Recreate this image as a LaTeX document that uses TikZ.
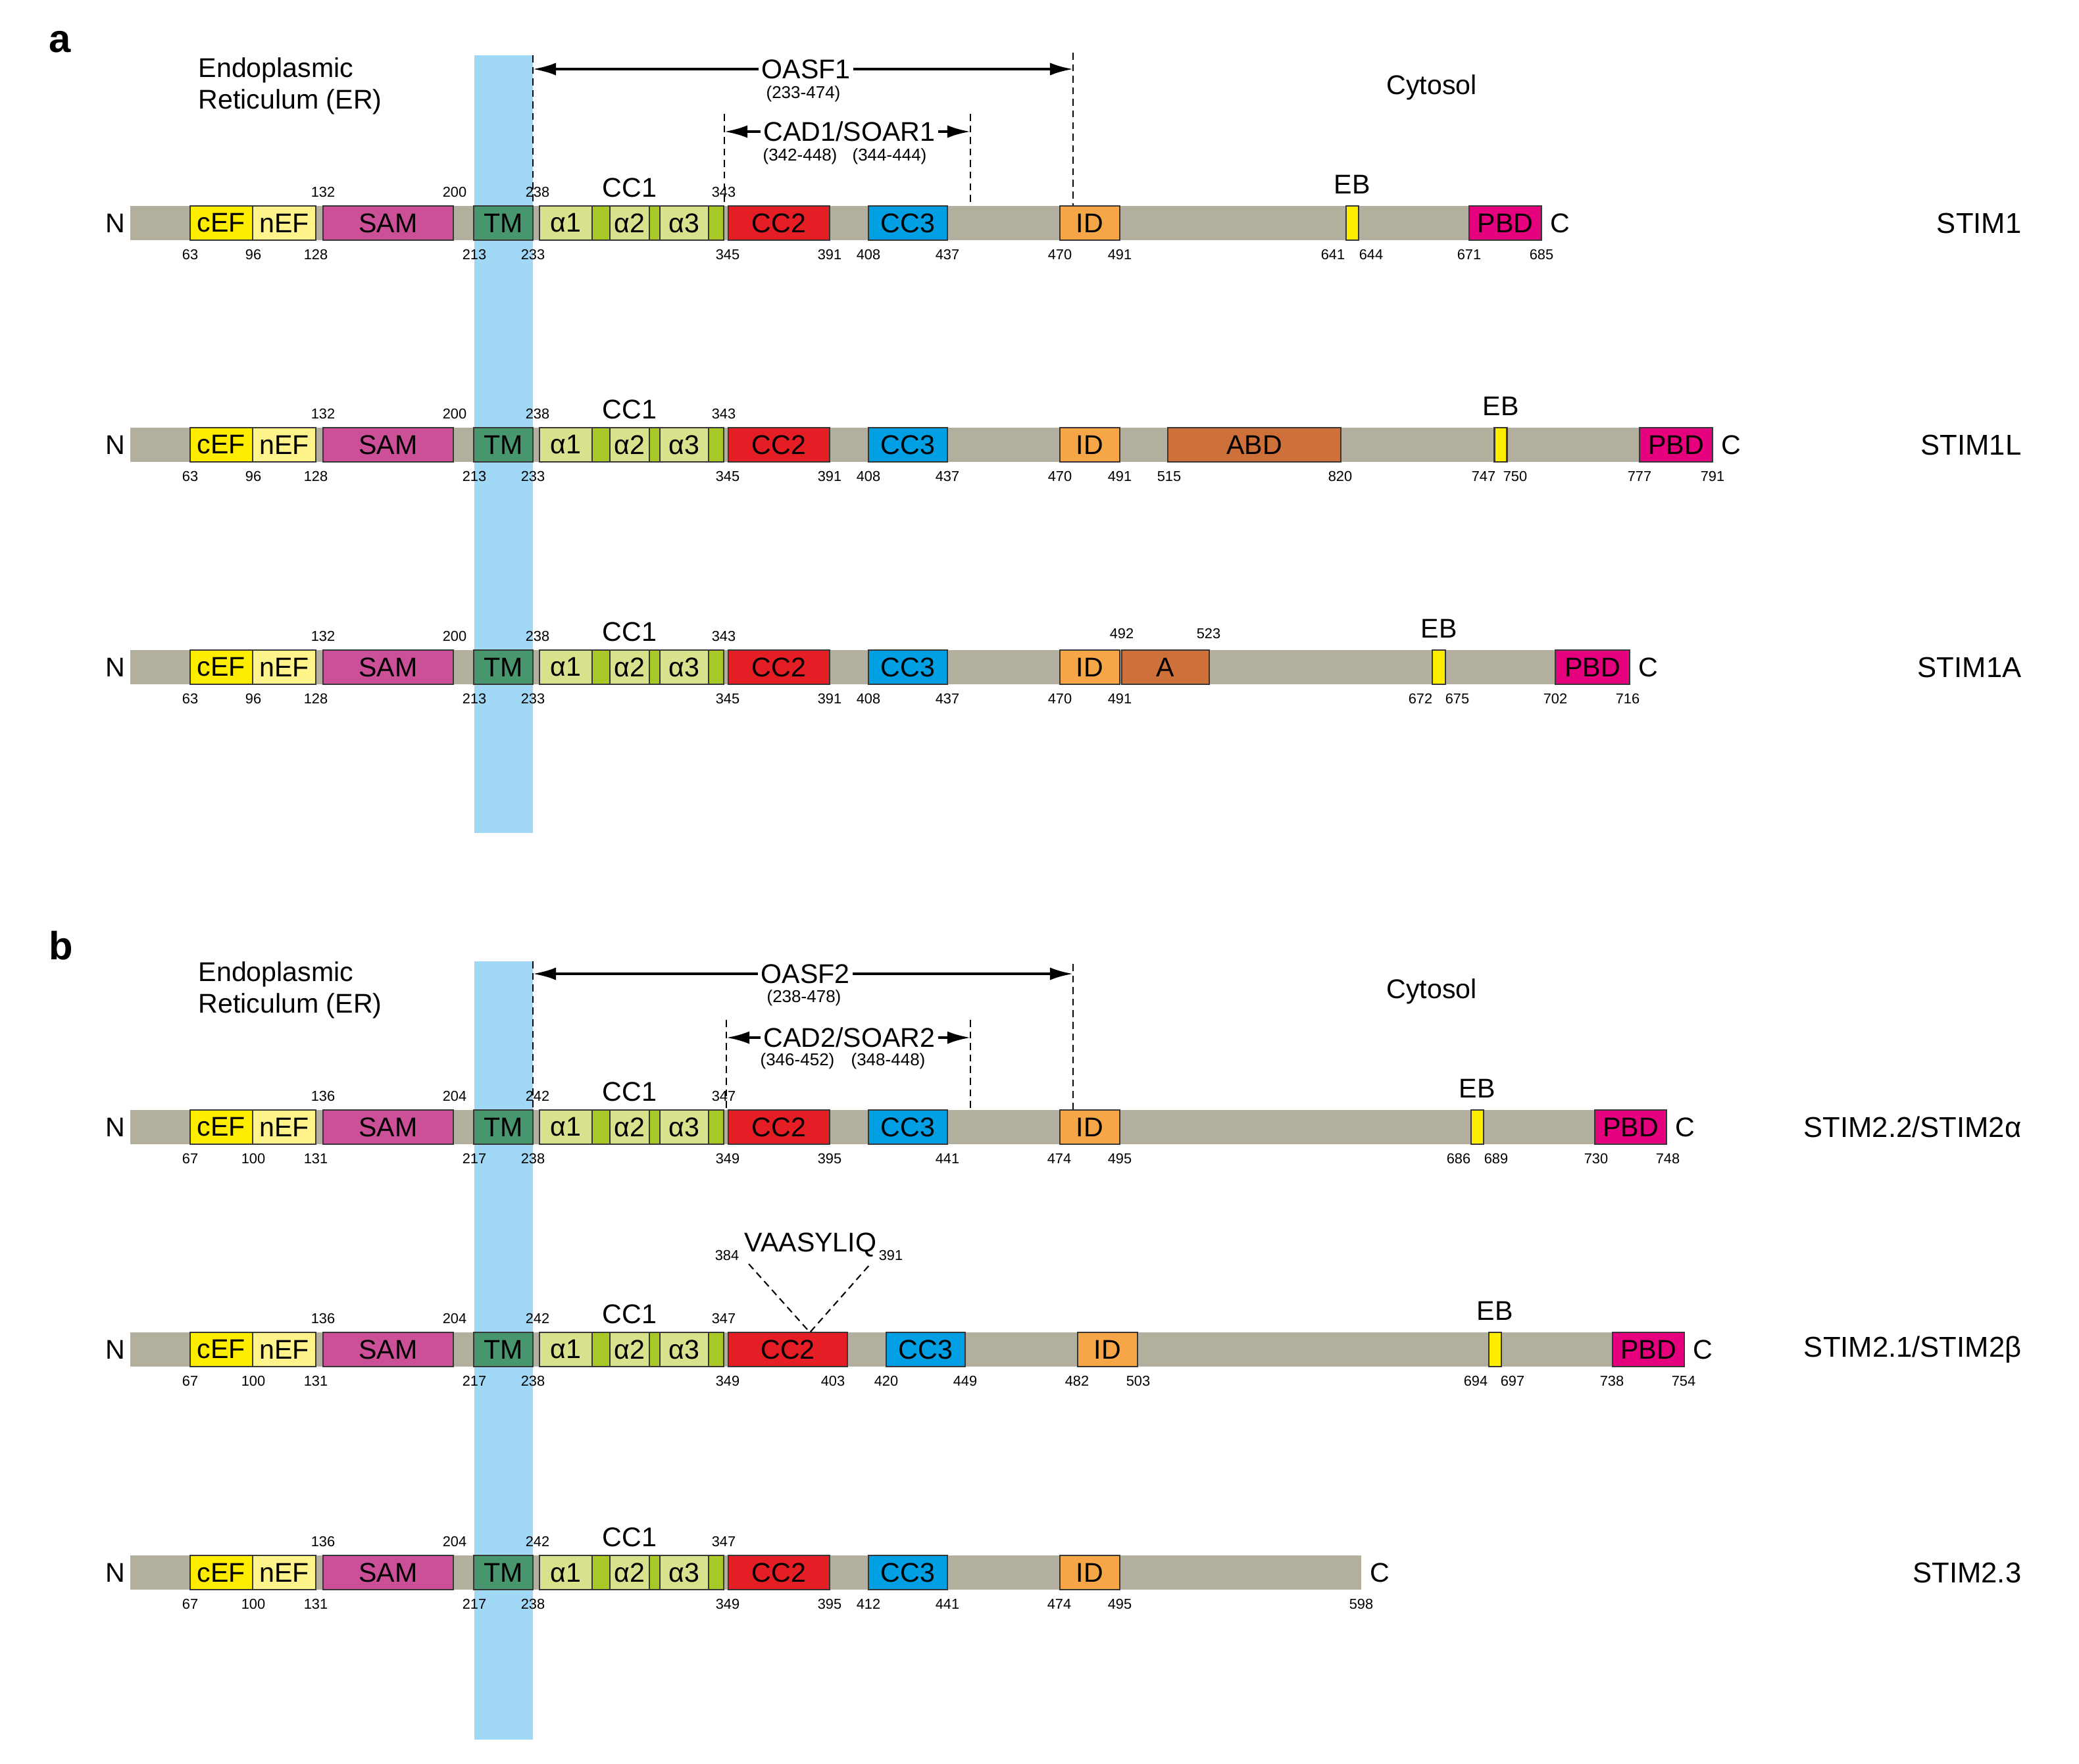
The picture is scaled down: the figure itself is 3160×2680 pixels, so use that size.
\documentclass[tikz,border=0pt]{standalone}
\usepackage{fontspec}
\setmainfont{Liberation Sans}
\usepackage{xcolor}
\usepackage{tikz}
\usetikzlibrary{arrows.meta,calc}

\definecolor{barc}{RGB}{178,175,158}
\definecolor{erblue}{RGB}{160,216,245}
\definecolor{cefc}{RGB}{255,237,0}
\definecolor{nefc}{RGB}{255,243,140}
\definecolor{samc}{RGB}{203,80,151}
\definecolor{tmc}{RGB}{72,150,110}
\definecolor{cc1c}{RGB}{168,200,40}
\definecolor{helc}{RGB}{216,226,140}
\definecolor{cc2c}{RGB}{228,30,36}
\definecolor{cc3c}{RGB}{0,159,227}
\definecolor{idc}{RGB}{246,166,70}
\definecolor{abdc}{RGB}{206,112,58}
\definecolor{pbdc}{RGB}{229,0,125}
\definecolor{edge}{RGB}{55,55,55}

\begin{document}
\begin{tikzpicture}[x=0.01cm,y=-0.01cm,
	lab/.style={font=\fontsize{11.7}{13.7}\selectfont, inner sep=0},
	iso/.style={font=\fontsize{12.4}{14}\selectfont, inner sep=0, anchor=east},
	num/.style={font=\fontsize{6.2}{7}\selectfont, inner sep=0},
	rng/.style={font=\fontsize{7.4}{8}\selectfont, inner sep=0},
	dom/.style={lab, draw=edge, line width=0.6pt, minimum height=0.52cm},
	w/.style={minimum width=(#1)*0.01cm},
	drop/.style={dash pattern=on 3pt off 2pt, line width=0.6pt},
	span/.style={line width=1.2pt, -{Latex[length=10pt,width=5.5pt]}},
	panel/.style={font=\fontsize{17}{17}\selectfont\bfseries, inner sep=0}]
	\useasboundingbox (0,0) rectangle (3160,2680);
	\fill[erblue] (721,84) rectangle (810,1266);
	\fill[erblue] (721,1461) rectangle (810,2644);

	\foreach \r/\y/\bend/\dx/\na/\nb/\nc/\nd/\ma/\mb/\mc/\md/\me/\mf in {
		1/339/2343/0/132/200/238/343/63/96/128/213/233/345,
		2/676/2603/0/132/200/238/343/63/96/128/213/233/345,
		3/1014/2477/0/132/200/238/343/63/96/128/213/233/345,
		4/1713/2533/0/136/204/242/347/67/100/131/217/238/349,
		5/2051/2560/27/136/204/242/347/67/100/131/217/238/349,
		6/2390/2069/0/136/204/242/347/67/100/131/217/238/349}{
		\fill[barc] (198,\y-26) rectangle (\bend,\y+26);
		\node[lab] (n\r) at (175,\y) {N};
		\node[lab] (c\r) at (\bend+28,\y) {C};
		\node[dom,fill=cefc,w=95] (cef\r) at (336.5,\y) {cEF};
		\node[dom,fill=nefc,w=96] (nef\r) at (432,\y) {nEF};
		\node[dom,fill=samc,w=198] (sam\r) at (590,\y) {SAM};
		\node[dom,fill=tmc,w=90] (tm\r) at (765,\y) {TM};
		\node[dom,fill=cc1c,w=280] (cc1\r) at (960,\y) {};
		\node[dom,fill=helc,w=80] (ha\r) at (860,\y) {α1};
		\node[dom,fill=helc,w=60] (hb\r) at (957,\y) {α2};
		\node[dom,fill=helc,w=74] (hc\r) at (1040,\y) {α3};
		\node[dom,fill=cc2c,w=154+\dx] (cc2\r) at (1184+\dx/2,\y) {CC2};
		\node[dom,fill=cc3c,w=120] (cc3\r) at (1380+\dx,\y) {CC3};
		\node[dom,fill=idc,w=91] (id\r) at (1656.5+\dx,\y) {ID};
		\node[lab] (cc1l\r) at (957,\y-54) {CC1};
		\node[num] (up\r-a) at (491,\y-47) {\na};
		\node[num] (up\r-b) at (691,\y-47) {\nb};
		\node[num] (up\r-c) at (817,\y-47) {\nc};
		\node[num] (up\r-d) at (1100,\y-47) {\nd};
		\node[num] (lo\r-a) at (289,\y+48) {\ma};
		\node[num] (lo\r-b) at (385,\y+48) {\mb};
		\node[num] (lo\r-c) at (480,\y+48) {\mc};
		\node[num] (lo\r-d) at (721,\y+48) {\md};
		\node[num] (lo\r-e) at (810,\y+48) {\me};
		\node[num] (lo\r-f) at (1106,\y+48) {\mf};
	}

	\node[dom,fill=cefc,w=19] (eb1) at (2055.5,339) {};
	\node[lab] (ebl1) at (2055,280) {EB};
	\node[dom,fill=pbdc,w=110] (pbd1) at (2288,339) {PBD};
	\node[iso] (stim1) at (3073,339) {STIM1};
	\foreach \x/\t in {1261/391,1320/408,1440/437,1611/470,1702/491,2026/641,2084/644,2233/671,2343/685}
		\node[num] (lo1-\t) at (\x,387) {\t};

	\node[dom,fill=abdc,w=263] (abd2) at (1906.5,676) {ABD};
	\node[dom,fill=cefc,w=19] (eb2) at (2281,676) {};
	\node[lab] (ebl2) at (2281,617) {EB};
	\node[dom,fill=pbdc,w=111] (pbd2) at (2547.5,676) {PBD};
	\node[iso] (stim2) at (3073,676) {STIM1L};
	\foreach \x/\t in {1261/391,1320/408,1440/437,1611/470,1702/491,1777/515,2037/820,2255/747,2303/750,2492/777,2603/791}
		\node[num] (lo2-\t) at (\x,724) {\t};

	\node[dom,fill=abdc,w=133] (a3) at (1771.5,1014) {A};
	\node[num] (up3-492) at (1705,963) {492};
	\node[num] (up3-523) at (1837,963) {523};
	\node[dom,fill=cefc,w=20] (eb3) at (2187,1014) {};
	\node[lab] (ebl3) at (2187,955) {EB};
	\node[dom,fill=pbdc,w=113] (pbd3) at (2420.5,1014) {PBD};
	\node[iso] (stim3) at (3073,1014) {STIM1A};
	\foreach \x/\t in {1261/391,1320/408,1440/437,1611/470,1702/491,2159/672,2215/675,2364/702,2474/716}
		\node[num] (lo3-\t) at (\x,1062) {\t};

	\node[dom,fill=cefc,w=19] (eb4) at (2245.5,1713) {};
	\node[lab] (ebl4) at (2245,1654) {EB};
	\node[dom,fill=pbdc,w=109] (pbd4) at (2478.5,1713) {PBD};
	\node[iso] (stim4) at (3073,1713) {STIM2.2/STIM2α};
	\foreach \x/\t in {1261/395,1440/441,1610/474,1702/495,2217/686,2274/689,2426/730,2535/748}
		\node[num] (lo4-\t) at (\x,1761) {\t};

	\node[dom,fill=cefc,w=19] (eb5) at (2272.5,2051) {};
	\node[lab] (ebl5) at (2272,1992) {EB};
	\node[dom,fill=pbdc,w=109] (pbd5) at (2505.5,2051) {PBD};
	\node[iso] (stim5) at (3073,2051) {STIM2.1/STIM2β};
	\foreach \x/\t in {1266/403,1347/420,1467/449,1637/482,1730/503,2243/694,2299/697,2450/738,2559/754}
		\node[num] (lo5-\t) at (\x,2099) {\t};

	\node[iso] (stim6) at (3073,2390) {STIM2.3};
	\foreach \x/\t in {1261/395,1320/412,1440/441,1610/474,1702/495,2069/598}
		\node[num] (lo6-\t) at (\x,2438) {\t};

	\node[panel] (pa) at (91,64) {a};
	\node[lab,align=left,anchor=west] (er1) at (301,131) {Endoplasmic\\Reticulum (ER)};
	\node[lab] (cyt1) at (2176,133) {Cytosol};
	\node[lab,fill=white,inner xsep=1pt] (oasf1) at (1225,105) {OASF1};
	\node[rng] (oasfr1) at (1221,143) {(233-474)};
	\node[lab,fill=white,inner xsep=1pt] (cad1) at (1291,200) {CAD1/SOAR1};
	\node[rng] (cadra1) at (1216,238) {(342-448)};
	\node[rng] (cadrb1) at (1352,238) {(344-444)};
	\coordinate (dl1) at (810,84);
	\coordinate (dr1) at (1631,80);
	\coordinate (cl1) at (1101,173);
	\coordinate (cr1) at (1475,173);
	\draw[drop] (dl1) -- (dl1 |- tm1.north);
	\draw[drop] (dr1) -- (dr1 |- id1.north);
	\draw[drop] (cl1) -- (cl1 |- cc21.north);
	\draw[drop] (cr1) -- (cr1 |- cc31.north);
	\draw[span] (oasf1.west) -- (dl1 |- oasf1);
	\draw[span] (oasf1.east) -- (dr1 |- oasf1);
	\draw[span] (cad1.west) -- (cl1 |- cad1);
	\draw[span] (cad1.east) -- (cr1 |- cad1);

	\node[panel] (pb) at (93,1437) {b};
	\node[lab,align=left,anchor=west] (er2) at (301,1505) {Endoplasmic\\Reticulum (ER)};
	\node[lab] (cyt2) at (2176,1507) {Cytosol};
	\node[lab,fill=white,inner xsep=1pt] (oasf2) at (1224,1480) {OASF2};
	\node[rng] (oasfr2) at (1222,1517) {(238-478)};
	\node[lab,fill=white,inner xsep=1pt] (cad2) at (1291,1577) {CAD2/SOAR2};
	\node[rng] (cadra2) at (1212,1613) {(346-452)};
	\node[rng] (cadrb2) at (1350,1613) {(348-448)};
	\coordinate (dl2) at (810,1461);
	\coordinate (dr2) at (1631,1465);
	\coordinate (cl2) at (1104,1550);
	\coordinate (cr2) at (1475,1550);
	\draw[drop] (dl2) -- (dl2 |- tm4.north);
	\draw[drop] (dr2) -- (dr2 |- id4.north);
	\draw[drop] (cl2) -- (cl2 |- cc24.north);
	\draw[drop] (cr2) -- (cr2 |- cc34.north);
	\draw[span] (oasf2.west) -- (dl2 |- oasf2);
	\draw[span] (oasf2.east) -- (dr2 |- oasf2);
	\draw[span] (cad2.west) -- (cl2 |- cad2);
	\draw[span] (cad2.east) -- (cr2 |- cad2);

	\node[lab] (vaas) at (1232,1892) {VAASYLIQ};
	\node[num] (v384) at (1105,1908) {384};
	\node[num] (v391) at (1354,1908) {391};
	\coordinate (ins) at (1231,2025);
	\draw[drop] ($(vaas.south west)+(7,10)$) -- (ins) -- ($(vaas.south east)+(-10,10)$);
\end{tikzpicture}
\end{document}
